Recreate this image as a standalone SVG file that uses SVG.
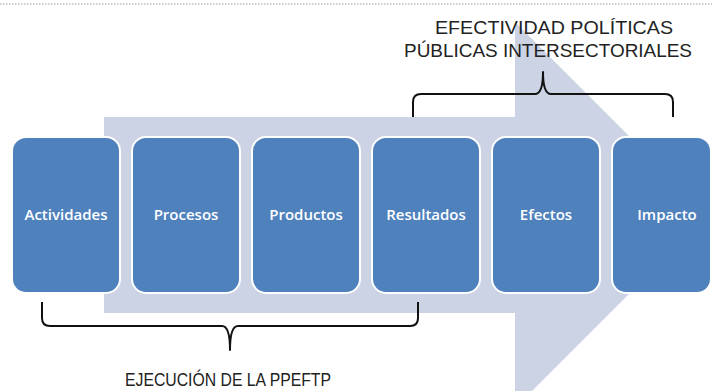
<svg xmlns="http://www.w3.org/2000/svg" width="712" height="391" viewBox="0 0 712 391">
<style>
.box{fill:#4f81bd;stroke:#ffffff;stroke-width:2}
.lbl{font-family:"Open Sans","Liberation Sans",sans-serif;font-size:15px;font-weight:600;fill:#ffffff;text-anchor:middle}
.cap{font-family:"Liberation Sans",Arial,sans-serif;font-size:18.5px;fill:#222222}
.brace{fill:none;stroke:#111111;stroke-width:2;stroke-linejoin:round}
</style>
<rect width="712" height="391" fill="#ffffff"/>
<line x1="0" y1="4" x2="712" y2="4" stroke="#9a9a9a" stroke-width="1" stroke-dasharray="1.5,1.5"/>
<polygon id="bigArrow" points="104,117 515,117 515,22 708,215 515,408 515,313 104,313" fill="#cbd3e4"/>
<g id="n-actividades"><rect class="box" x="12" y="137" width="108" height="156" rx="14"/><text class="lbl" x="66" y="220">Actividades</text></g>
<g id="n-procesos"><rect class="box" x="132" y="137" width="108" height="156" rx="14"/><text class="lbl" x="186" y="220">Procesos</text></g>
<g id="n-productos"><rect class="box" x="252" y="137" width="108" height="156" rx="14"/><text class="lbl" x="306" y="220">Productos</text></g>
<g id="n-resultados"><rect class="box" x="372" y="137" width="108" height="156" rx="14"/><text class="lbl" x="426" y="220">Resultados</text></g>
<g id="n-efectos"><rect class="box" x="492" y="137" width="108" height="156" rx="14"/><text class="lbl" x="546" y="220">Efectos</text></g>
<g id="n-impacto"><rect class="box" x="612" y="137" width="99" height="156" rx="14"/><text class="lbl" x="667" y="220">Impacto</text></g>
<g id="connectors">
<path class="brace" d="M413,117 V102 Q413,94 421,94 H535 Q543,94 543,72 Q543,94 551,94 H665 Q673,94 673,102 V117"/>
<path class="brace" d="M42,302 V318 Q42,326 50,326 H222 Q230,326 230,350 Q230,326 238,326 H410 Q418,326 418,318 V302"/>
</g>
<g id="t-efectividad">
<text class="cap" x="435" y="34" textLength="238" lengthAdjust="spacingAndGlyphs">EFECTIVIDAD POLÍTICAS</text>
<text class="cap" x="404" y="57" textLength="288" lengthAdjust="spacingAndGlyphs">PÚBLICAS INTERSECTORIALES</text>
</g>
<g id="t-ejecucion">
<text class="cap" x="125" y="386" textLength="206" lengthAdjust="spacingAndGlyphs">EJECUCIÓN DE LA PPEFTP</text>
</g>
</svg>
